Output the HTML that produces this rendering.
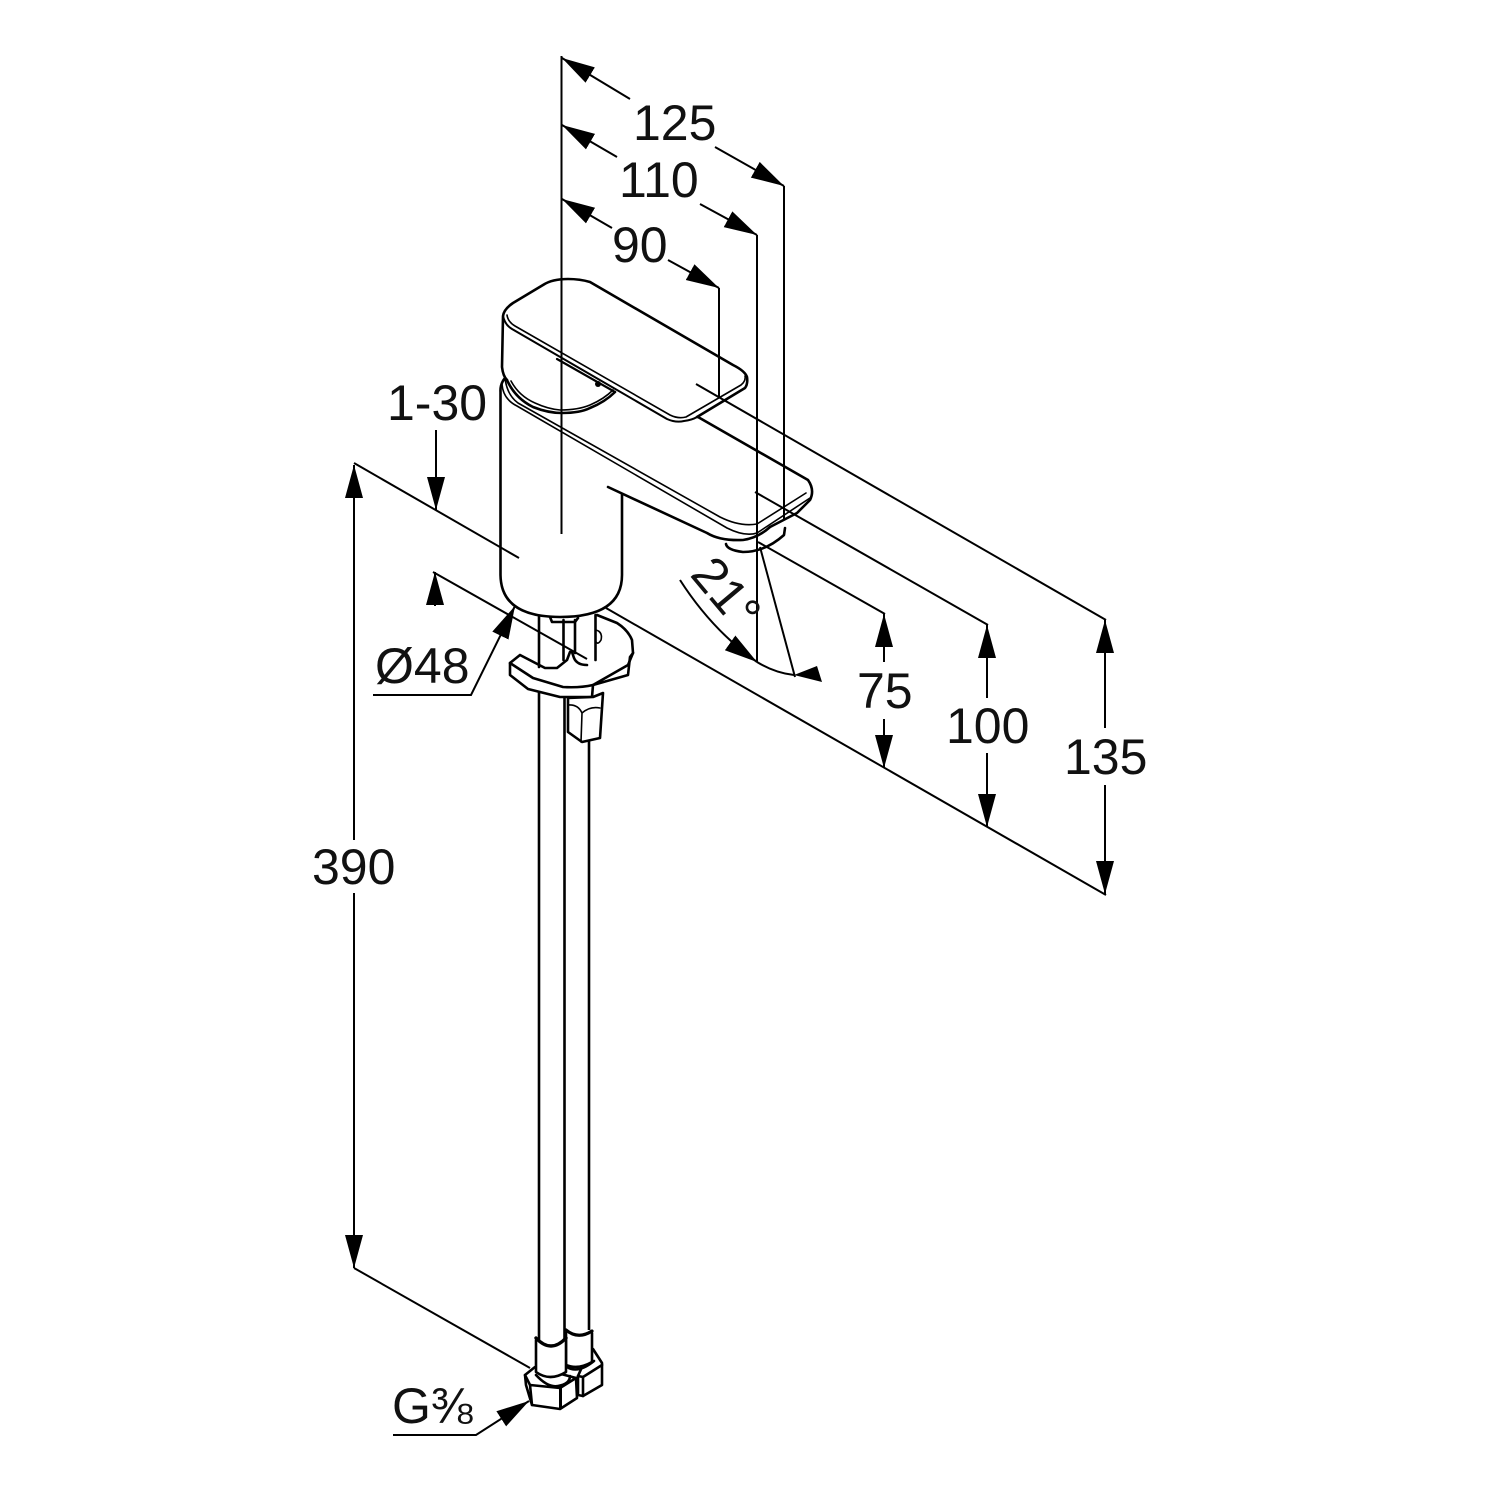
<!DOCTYPE html>
<html><head><meta charset="utf-8"><title>Faucet dimensions</title>
<style>
html,body{margin:0;padding:0;background:#fff}
svg{display:block}
text{font-family:"Liberation Sans",sans-serif;font-size:50px;fill:#111}
.d{fill:none;stroke:#000;stroke-width:2}
.o{fill:none;stroke:#000;stroke-width:2.6;stroke-linejoin:round;stroke-linecap:round}
.t{fill:none;stroke:#000;stroke-width:1.6;stroke-linejoin:round;stroke-linecap:round}
.w{fill:#fff;stroke:#000;stroke-width:2.6;stroke-linejoin:round}
.f{fill:#fff;stroke:none}
</style></head><body>
<svg width="1500" height="1500" viewBox="0 0 1500 1500" xmlns="http://www.w3.org/2000/svg">
<defs>
<marker id="a" markerUnits="userSpaceOnUse" markerWidth="34" markerHeight="20" refX="33" refY="10" orient="auto-start-reverse"><path d="M0 1L33 10L0 19Z" fill="#000"/></marker>
</defs>
<rect width="1500" height="1500" fill="#fff"/>

<!-- hoses -->
<path class="o" d="M539 690V1342M564.500 695V1340M589 735V1333"/>

<!-- base plate -->
<path class="f" d="M520 655L510 663V675L528 689L560 697H592L593 685L628 675L630 657L633 653L632 640L617 623L597 615L570 652L567 660L557 668H545Z"/>
<path class="o" d="M570 652L567 660L557 668H545L520 655L510 663V675L528 689L560 697H592L593 685L628 675L630 657L633 653L632 640Q628 630 617 623L597 615"/>
<path class="o" d="M510 663L533 678L563 687Q580 688 593 685L628 665L633 653"/>
<path class="o" d="M539 615V667M563.500 620V660M575 620V653"/>
<path class="o" d="M595.500 615V660"/>
<path class="o" d="M550 617L552 622H575L578 618"/>
<path class="t" d="M596 630Q603 632 601 640Q598 645 596 642"/>
<path class="o" d="M572 652L574 658Q577 665 587 665"/>

<!-- hex nut under plate -->
<path class="w" d="M568 698V732L582 742L600 738L603 693L593 697Z"/>
<path class="t" d="M568 705Q578 704 582 713Q590 706 600 708M582 713L581 742"/>

<!-- faucet body -->
<path class="f" d="M500.500 392V575Q501 617 560 617Q622 617 622 575V493L606 487L707 533Q720 540 743 540L770 527L797 513L810 500L813 490Q813 484 808 480L698 417L505 378Z"/>
<path class="o" d="M505 378Q500 384 500.500 392V575Q501 617 560 617Q622 617 622 575V494"/>
<path class="o" d="M608 487L707 533Q720 541 743 540Q758 538 770 527L797 513L810 500Q815 490 808 480L698 417"/>
<path class="t" d="M502 384Q503 399 517 406L727 528Q745 537 757 533L810 498"/>
<path class="t" d="M505 378Q507 395 518 403L720 517Q740 527 757 524L806 493"/>
<!-- aerator -->
<path class="o" d="M726 544Q727 550 743 552Q765 552 784 535L785 528"/>
<!-- handle stem -->
<path class="o" d="M507 380Q515 398 533 407Q548 413 562 413Q580 413 590 408Q605 402 615 392"/>
<path class="t" d="M511 381Q519 396 535 403Q548 409 560 410Q578 410 590 405Q604 399 613 390"/>
<path class="o" d="M557 359L615 392" style="stroke-width:2.2"/>
<circle cx="598" cy="384" r="3" fill="#000"/>
<!-- handle -->
<path class="f" d="M503 316Q504 309 513 303L543 285Q552 279 568 279Q580 279 590 282L733 365Q745 371 747 377Q748 384 745 388L697 417Q692 421 684 421Q676 423 667 419L512 329Q505 325 503 316Z"/>
<path class="o" d="M503 316L502 367Q503 376 507 380M503 316Q504 309 513 303L543 285Q552 279 568 279Q580 279 590 282L733 365Q745 371 747 377Q748 384 745 388L697 417"/>
<path class="t" d="M503 316Q505 325 512 329L667 419Q676 423 684 421Q692 420 697 417" style="stroke-width:2"/>
<path class="t" d="M507 315Q508 322 515 326L670 415Q678 419 686 417L741 385Q746 381 745 376"/>

<!-- centre vertical and extension lines -->
<path class="d" d="M561.500 56V534"/>
<path class="d" d="M719 288V398"/>
<path class="d" d="M757 235V662"/>
<path class="d" d="M784 186V520"/>
<path class="d" d="M696 384L1106 620"/>
<path class="d" d="M755 492L988 625"/>
<path class="d" d="M758 542L885 614"/>
<path class="d" d="M354 463L519 558"/>
<path class="d" d="M606 608L1106 895"/>
<path class="d" d="M433 572L587 659"/>
<path class="d" d="M354 1268L530 1368"/>

<!-- top dimension arrows -->
<path class="d" d="M630 99L562 58" marker-end="url(#a)"/>
<path class="d" d="M715 147L784 186" marker-end="url(#a)"/>
<path class="d" d="M617 157L562 125" marker-end="url(#a)"/>
<path class="d" d="M700 204L757 235" marker-end="url(#a)"/>
<path class="d" d="M612 228L562 199" marker-end="url(#a)"/>
<path class="d" d="M668 260L719 288" marker-end="url(#a)"/>

<!-- right dimension arrows -->
<path class="d" d="M884 662V614" marker-end="url(#a)"/>
<path class="d" d="M884 719V768" marker-end="url(#a)"/>
<path class="d" d="M987 698V625" marker-end="url(#a)"/>
<path class="d" d="M987 753V827" marker-end="url(#a)"/>
<path class="d" d="M1105 728V620" marker-end="url(#a)"/>
<path class="d" d="M1105 785V894" marker-end="url(#a)"/>

<!-- left dimension arrows -->
<path class="d" d="M354 840V465" marker-end="url(#a)"/>
<path class="d" d="M354 893V1268" marker-end="url(#a)"/>
<path class="d" d="M436 430V510" marker-end="url(#a)"/>
<path class="d" d="M435 606V572" marker-end="url(#a)"/>
<path class="d" d="M373 695H471L515 606" marker-end="url(#a)"/>
<path class="d" d="M393 1435H476L529 1401" marker-end="url(#a)"/>

<!-- angle -->
<path class="d" d="M680 580Q712 630 757 662" marker-end="url(#a)"/>
<path class="d" d="M757 662Q775 673 794 675"/>
<path d="M794 675L817 666L822 682Z" fill="#000"/>
<path class="d" d="M760 547L795 677"/>

<!-- bottom connectors -->
<path class="w" d="M593 1349L602 1363V1385L583 1396L578 1395V1376L590 1349Z"/>
<path class="o" d="M578 1376L583 1377L602 1365M583 1377V1396"/>
<path class="o" d="M567 1367Q578 1374 594 1361"/>
<path class="f" d="M566 1330H592V1362Q578 1372 566 1365Z"/>
<path class="o" d="M566 1333V1365Q578 1370 592 1362V1333"/>
<path class="o" d="M566 1330Q578 1340 592 1331" style="stroke-width:3.2"/>
<path class="w" d="M525 1375L535 1367L576 1378L577 1398L560 1409L532 1405L526 1385Z"/>
<path class="o" d="M525 1375L530 1385L560 1388L576 1378M530 1385L532 1405"/>
<path d="M559 1388H562V1409H559Z" fill="#000"/>
<path class="f" d="M536 1340H566V1372Q552 1384 536 1372Z"/>
<path class="o" d="M536 1340V1372Q550 1382 566 1372V1340"/>
<path class="o" d="M536 1338Q551 1354 566 1338" style="stroke-width:3.4"/>
<path class="o" d="M536 1375Q548 1388 558 1386Q570 1384 570 1376"/>

<!-- labels -->
<text x="633" y="140">125</text>
<text x="619" y="197">110</text>
<text x="612" y="262">90</text>
<text x="387" y="420">1-30</text>
<text x="312" y="884">390</text>
<text x="857" y="708">75</text>
<text x="946" y="743">100</text>
<text x="1064" y="774">135</text>
<text x="375" y="683">Ø48</text>
<text x="392" y="1423">G⅜</text>
<text transform="translate(689 575) rotate(50)">21°</text>
</svg>
</body></html>
